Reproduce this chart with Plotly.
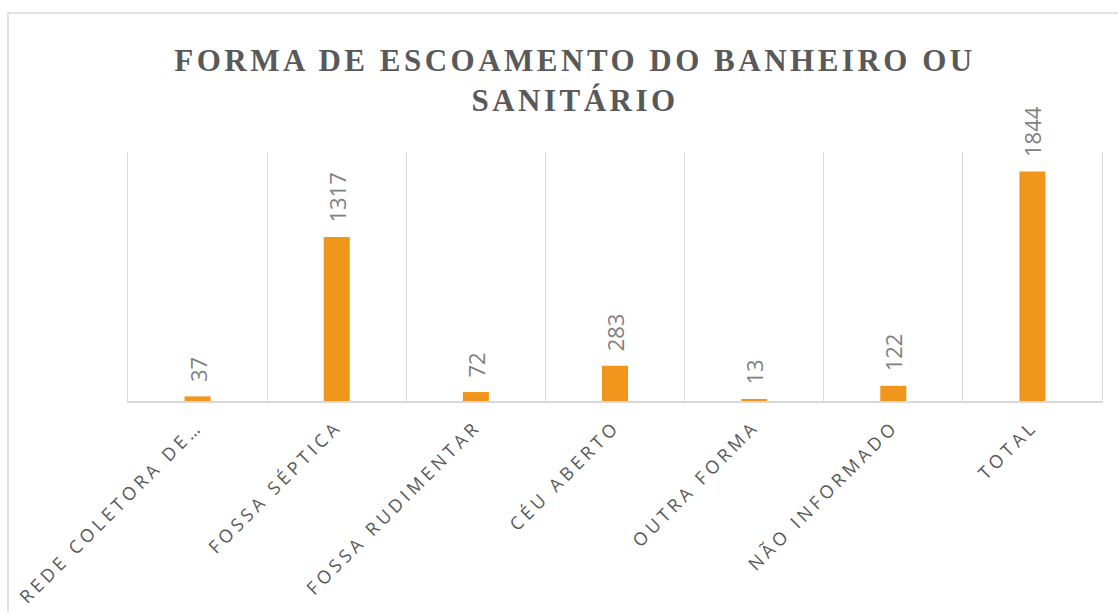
import plotly.graph_objects as go

categories = ["REDE COLETORA DE…", "FOSSA SÉPTICA", "FOSSA RUDIMENTAR", "CÉU ABERTO",
              "OUTRA FORMA", "NÃO INFORMADO", "TOTAL"]
values = [37, 1317, 72, 283, 13, 122, 1844]
title_text = "FORMA DE ESCOAMENTO DO BANHEIRO OU<br>SANITÁRIO"

W, H = 1118, 612
ML, MR, MT, MB = 128, 16, 152, 211
PW, PH = W - ML - MR, H - MT - MB


def px_to_paper_x(px):
    return (px - ML) / PW


def px_to_paper_y(py):
    return (H - MB - py) / PH


fig = go.Figure(go.Bar(
    x=categories,
    y=values,
    marker=dict(color="#F0961A", line=dict(width=0)),
    text=values,
    texttemplate="\u00a0\u00a0%{y}",
    textposition="outside",
    textangle=-90,
    constraintext="none",
    cliponaxis=False,
    textfont=dict(family="Liberation Sans Narrow, Open Sans, sans-serif", size=22, color="#808080"),
    hoverinfo="skip",
))

fig.update_layout(
    width=W, height=H,
    margin=dict(l=ML, r=MR, t=MT, b=MB, pad=0),
    paper_bgcolor="white",
    plot_bgcolor="white",
    bargap=0.813,
    showlegend=False,
    title=dict(
        text=title_text,
        x=575 / W, xref="container", xanchor="center",
        y=1 - 71 / H, yref="container", yanchor="top",
        font=dict(family="Liberation Serif, Times New Roman, serif", size=31, color="#595959",
                  weight="bold"),
    ),
    xaxis=dict(
        type="category",
        range=[-0.5, 6.5],
        tickson="boundaries",
        showgrid=True, gridcolor="#D9D9D9", gridwidth=1,
        showline=True, linecolor="#D9D9D9", linewidth=2,
        ticks="",
        tickangle=-45,
        tickfont=dict(family="Open Sans, sans-serif", size=18, color="#595959"),
        automargin=False,
        ticklabelstandoff=6,
    ),
    yaxis=dict(
        range=[0, 2000],
        showgrid=False, zeroline=False,
        showticklabels=False, ticks="",
        showline=True, mirror=True, linecolor="#D9D9D9", linewidth=1,
        automargin=False,
    ),
    shapes=[dict(
        type="rect", xref="paper", yref="paper",
        x0=px_to_paper_x(8), x1=px_to_paper_x(1140),
        y0=px_to_paper_y(640), y1=px_to_paper_y(13),
        line=dict(color="#D9D9D9", width=1.5), fillcolor="rgba(0,0,0,0)", layer="below",
    )],
)

post_js = """
document.body.style.margin = '0';
document.body.style.padding = '0';
var gd = document.getElementById('{plot_id}');
function applySpacing(){
  gd.querySelectorAll('.xtick text').forEach(function(t){ t.style.letterSpacing = '4px'; });
  gd.querySelectorAll('.gtitle').forEach(function(t){ t.style.letterSpacing = '3.5px'; });
}
applySpacing();
gd.on('plotly_afterplot', applySpacing);
"""

fig.write_html("out.html", post_script=post_js, config={"responsive": False, "displayModeBar": False})
